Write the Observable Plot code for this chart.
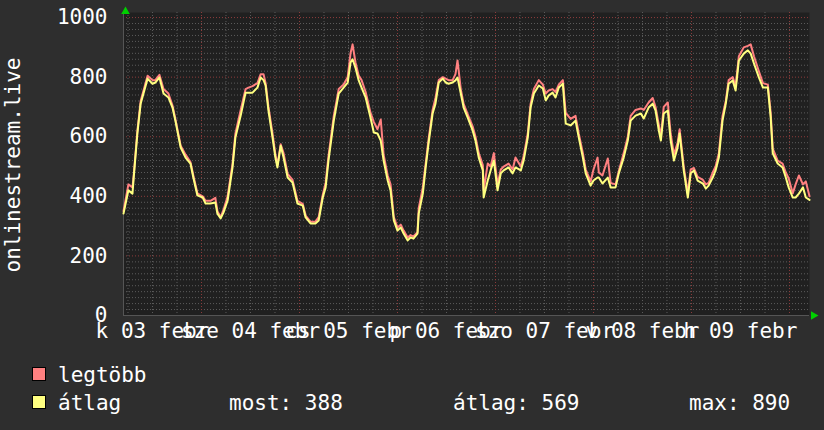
<!DOCTYPE html>
<html><head><meta charset="utf-8">
<script src="https://cdn.jsdelivr.net/npm/d3@7"></script>
<script src="https://cdn.jsdelivr.net/npm/@observablehq/plot@0.6"></script>
<style>
html,body{margin:0;padding:0}
body{background:#2e2e2e;width:824px;height:430px;overflow:hidden;position:relative;font-family:"DejaVu Sans Mono",monospace;color:#fff}
#chart{position:absolute;left:0;top:0}
.lt{position:absolute;font-size:21px;line-height:21px;white-space:pre;color:#fff}
.sw{position:absolute;width:12px;height:12px;border:1px solid #000}
#ytitle{position:absolute;left:13px;top:165px;font-size:21px;line-height:21px;white-space:pre;transform:translate(-50%,-50%) rotate(-90deg)}
</style></head><body>
<div id="chart"></div>
<div id="ytitle"></div>
<div id="legend"></div>
<script>
// hours since 03 Feb 00:00
const hours = [
  4.9, 6.1, 7.1, 7.4, 8.3, 9.1, 10.8, 12.0, 12.7, 13.7, 14.7, 15.9, 16.9, 17.6, 18.9, 20.1, 21.3, 22.0, 23.0,
  24.3, 25.0, 26.2, 27.4, 27.9, 28.7, 29.4, 30.4, 31.6, 32.3, 33.6, 34.8, 35.5, 36.5, 37.7, 38.5, 39.2, 39.7, 40.4, 41.4, 42.1, 42.6, 43.4, 44.1, 45.1, 46.3, 47.5,
  48.8, 49.5, 50.7, 51.9, 52.7, 53.7, 54.4, 55.1, 56.4, 57.6, 58.8, 59.8, 60.5, 61.0, 61.7, 62.5, 63.2, 64.2, 65.4, 66.2, 67.1, 67.9, 68.6, 69.6, 70.3, 71.1,
  72.0, 72.8, 73.5, 74.5, 75.2, 75.9, 76.9, 77.2, 78.2, 78.9, 79.6, 80.6, 81.3, 82.1, 83.1, 83.8, 84.5, 85.5, 86.2, 86.7, 87.5, 88.2, 89.2, 90.4, 91.1, 91.9, 92.9, 93.1, 94.1, 94.8, 95.6,
  96.5, 97.3, 98.0, 99.2, 100.2, 100.9, 102.2, 102.9, 103.9, 104.6, 105.4, 106.6, 107.6, 108.3, 109.0, 110.0, 110.7, 111.5, 112.5, 113.2, 114.4, 115.6, 116.4, 117.4, 118.1, 119.3,
  120.0, 121.0, 121.3, 122.2, 123.5, 124.2, 125.4, 126.2, 127.4, 128.4, 129.1, 130.3, 131.6, 132.3, 133.5, 134.5, 135.2, 136.0, 136.5, 137.2, 138.2, 138.9, 139.7, 140.6, 141.1, 142.1, 143.1,
  143.8, 144.6, 145.5, 146.8, 147.5, 148.2, 149.2, 149.9, 150.7, 151.6, 152.4, 153.1, 154.1, 154.8, 155.6, 156.8, 157.8, 158.5, 159.3, 160.5, 161.5, 162.7, 163.4, 163.9, 165.1, 166.3, 167.1, 167.8,
  168.8, 169.5, 170.3, 171.3, 172.0, 172.9
];
// átlag (average)
const atlag = [
  342, 420, 409, 463, 611, 711, 795, 778, 782, 799, 745, 732, 698, 654, 564, 530, 510, 463, 403,
  396, 376, 376, 379, 342, 326, 346, 386, 497, 597, 671, 748, 748, 748, 765, 799, 790, 772, 688, 597, 530, 497, 570, 530, 463, 446, 376,
  369, 329, 309, 309, 319, 396, 430, 520, 654, 745, 765, 782, 849, 860, 832, 789, 765, 732, 664, 614, 611, 587, 520, 453, 420, 319,
  285, 295, 275, 252, 262, 258, 275, 342, 409, 497, 577, 678, 711, 782, 795, 782, 778, 782, 789, 799, 745, 698, 664, 621, 587, 530, 487, 396, 453, 487, 520,
  420, 477, 487, 497, 477, 497, 487, 520, 597, 698, 745, 772, 762, 722, 738, 748, 732, 765, 778, 644, 638, 654, 597, 530, 477, 436,
  453, 463, 463, 443, 463, 430, 430, 477, 530, 587, 654, 671, 678, 661, 698, 711, 688, 621, 587, 678, 688, 587, 520, 564, 611, 487, 396,
  477, 487, 453, 443, 426, 436, 463, 487, 530, 654, 711, 778, 789, 755, 856, 879, 890, 879, 846, 799, 765, 765, 664, 544, 510, 497, 463, 430,
  396, 396, 409, 430, 396, 388
];
// legtöbb (maximum)
const legtobb = [
  350, 440, 430, 470, 620, 720, 805, 790, 790, 808, 760, 745, 705, 660, 570, 540, 515, 470, 410,
  400, 385, 385, 395, 350, 330, 355, 400, 510, 610, 690, 760, 765, 770, 780, 810, 810, 780, 700, 610, 540, 505, 575, 545, 475, 455, 385,
  375, 335, 315, 315, 330, 405, 445, 535, 670, 760, 775, 800, 880, 910, 850, 805, 790, 750, 680, 650, 625, 658, 540, 470, 440, 330,
  295, 305, 285, 262, 270, 265, 280, 360, 430, 510, 590, 690, 730, 790, 800, 795, 790, 790, 810, 856, 760, 710, 675, 635, 600, 545, 505, 420, 510, 500, 545,
  440, 490, 500, 510, 490, 530, 500, 535, 610, 710, 760, 790, 775, 745, 755, 760, 750, 775, 790, 680, 660, 670, 610, 545, 490, 450,
  490, 530, 480, 470, 527, 445, 440, 485, 545, 600, 670, 690, 695, 690, 715, 730, 700, 640, 600, 700, 715, 610, 540, 580, 625, 500, 410,
  490, 495, 465, 455, 440, 445, 480, 500, 545, 670, 720, 790, 800, 770, 870, 900, 905, 910, 870, 820, 780, 775, 680, 560, 520, 510, 480, 460,
  410, 440, 470, 440, 450, 400
];
const dayLabels = ["k 03 febr", "sze 04 febr", "cs 05 febr", "p 06 febr", "szo 07 febr", "v 08 febr", "h 09 febr"];
const yTicks = [0, 200, 400, 600, 800, 1000];
const yTitle = "onlinestream.live";
const seriesNames = ["legtöbb", "átlag"];
const seriesColors = ["#ff8080", "#ffff80"];
const statNames = ["most", "átlag", "max"];
const statValues = [388, 569, 890];

const t0 = Date.UTC(2026, 1, 3);
const T = h => new Date(t0 + h * 3600e3);
const data = hours.map((h, i) => ({t: T(h), avg: atlag[i], max: legtobb[i]}));
const xStart = T(4.9), xEnd = T(172.9);
const minorY = d3.range(20, 1000, 20).filter(v => v % 200 !== 0);
const majorY = yTicks.filter(v => v > 0);
const minorX = d3.range(6, 173, 6).filter(h => h % 24 !== 0).map(T);
const majorX = d3.range(24, 173, 24).map(T);
const noon = dayLabels.map((_, i) => T(12 + 24 * i));
const labelOf = new Map(noon.map((d, i) => [+d, dayLabels[i]]));
const FONT = "DejaVu Sans Mono";

const plot = Plot.plot({
  width: 824, height: 345,
  marginLeft: 123, marginRight: 15, marginTop: 12, marginBottom: 30,
  style: {background: "transparent", color: "#fff", fontFamily: FONT, fontSize: "21px", overflow: "visible"},
  x: {type: "utc", domain: [xStart, xEnd], label: null},
  y: {domain: [0, 1017], label: null},
  marks: [
    Plot.frame({fill: "#202020", stroke: null}),
    Plot.ruleY(minorY, {stroke: "#5c5c5c", strokeDasharray: "1,2"}),
    Plot.ruleX(minorX, {stroke: "#5c5c5c", strokeDasharray: "1,2"}),
    Plot.ruleY(majorY, {stroke: "#8c3c3c", strokeDasharray: "1,2"}),
    Plot.ruleX(majorX, {stroke: "#8c3c3c", strokeDasharray: "1,2"}),
    Plot.ruleX([xStart], {stroke: "#555"}),
    Plot.ruleY([0], {stroke: "#555", x1: xStart, x2: xEnd}),
    Plot.lineY(data, {x: "t", y: "max", stroke: seriesColors[0], strokeWidth: 2, curve: "linear"}),
    Plot.lineY(data, {x: "t", y: "avg", stroke: seriesColors[1], strokeWidth: 2, curve: "linear"}),
    Plot.axisY(yTicks, {tickSize: 0, tickPadding: 16, fontSize: 21, fill: "#fff", label: null, tickFormat: d => String(d)}),
    Plot.axisX(noon, {tickSize: 0, tickPadding: 8, fontSize: 21, fill: "#fff", label: null, tickFormat: d => labelOf.get(+d)}),
    Plot.dot([0], {frameAnchor: "top-left", symbol: "triangle", r: 3.2, fill: "#00d000", stroke: null, dx: 2, dy: -1}),
    Plot.dot([0], {frameAnchor: "bottom-right", symbol: "triangle", r: 3.2, rotate: 90, fill: "#00d000", stroke: null, dx: 4})
  ]
});
document.getElementById("chart").appendChild(plot);
document.getElementById("ytitle").textContent = yTitle;

// legend
const leg = document.getElementById("legend");
const rowsTop = [365, 393];
seriesNames.forEach((name, i) => {
  const sw = document.createElement("div");
  sw.className = "sw";
  sw.style.left = "32px";
  sw.style.top = (rowsTop[i] + 2) + "px";
  sw.style.background = seriesColors[i];
  leg.appendChild(sw);
  const tx = document.createElement("div");
  tx.className = "lt";
  tx.style.left = "58px";
  tx.style.top = rowsTop[i] + "px";
  tx.textContent = name;
  leg.appendChild(tx);
});
const statX = [229, 453, 689];
statNames.forEach((n, i) => {
  const tx = document.createElement("div");
  tx.className = "lt";
  tx.style.left = statX[i] + "px";
  tx.style.top = rowsTop[1] + "px";
  tx.textContent = n + ": " + statValues[i];
  leg.appendChild(tx);
});
</script>
</body></html>
